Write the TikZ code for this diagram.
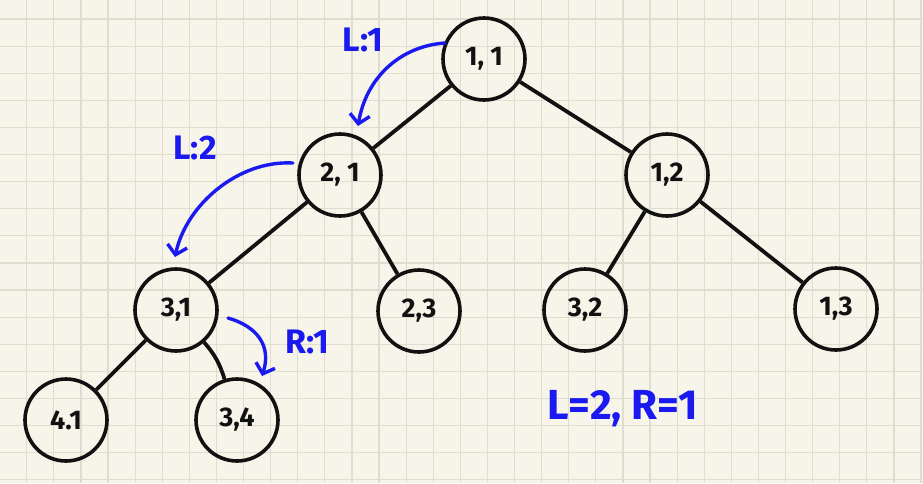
\documentclass[tikz,border=0pt]{standalone}
\usepackage{fontspec}
\setmainfont{Fira Sans}
\usetikzlibrary{arrows.meta}
\definecolor{paper}{HTML}{F7F5E9}
\definecolor{gridc}{HTML}{DFDDCF}
\definecolor{ink}{HTML}{111111}
\definecolor{pen}{HTML}{1A1AF0}
\tikzset{
  tnode/.style={circle,draw=ink,line width=3.6pt,minimum size=82pt,inner sep=0pt,
    font=\bfseries\fontsize{27}{27}\selectfont,text=ink},
  tedge/.style={draw=ink,line width=3.8pt},
  bluearrow/.style={draw=pen,line width=3.4pt,line cap=round,
    -{Straight Barb[length=9pt,width=20pt,line width=3.4pt]}},
  bluelabel/.style={text=pen,font=\bfseries\fontsize{34}{34}\selectfont,inner sep=0pt},
}
\begin{document}
\begin{tikzpicture}[x=1pt,y=-1pt]
\fill[paper] (0,0) rectangle (923,483);
\useasboundingbox (0,0) rectangle (923,483);
\foreach \k in {1,...,34} {\draw[gridc,line width=1.2pt] ({-0.4+27.1*\k},0) -- ({-0.4+27.1*\k},483);}
\foreach \k in {0,...,17} {\draw[gridc,line width=1.2pt] (0,{19+27.1*\k}) -- (923,{19+27.1*\k});}

\node[tnode] (n11) at (484,59) {1, 1};
\node[tnode] (n21) at (340,175) {2, 1};
\node[tnode] (n12) at (667,175) {1,2};
\node[tnode] (n31) at (176,310) {3,1};
\node[tnode] (n23) at (419,311) {2,3};
\node[tnode] (n32) at (585,310) {3,2};
\node[tnode] (n13) at (836,309) {1,3};
\node[tnode] (n41) at (66,420) {4.1};
\node[tnode] (n34) at (237,420) {3,4};

\draw[tedge] (n11) -- (n21);
\draw[tedge] (n11) -- (n12);
\draw[tedge] (n21) -- (n31);
\draw[tedge] (n21) -- (n23);
\draw[tedge] (n12) -- (n32);
\draw[tedge] (n12) -- (n13);
\draw[tedge] (n31) -- (n41);
\draw[tedge] (n31) to[bend left=12] (n34);

\coordinate (a1s) at (445,43);
\coordinate (a1e) at (358,126);
\coordinate (a2s) at (293,163);
\coordinate (a2e) at (175,257);
\coordinate (a3s) at (228,318);
\coordinate (a3e) at (262,376);
\draw[bluearrow] (a1s) .. controls (400,46) and (366,78) .. (a1e);
\draw[bluearrow] (a2s) .. controls (238,160) and (186,205) .. (a2e);
\draw[bluearrow] (a3s) .. controls (256,326) and (272,345) .. (a3e);

\node[bluelabel] (l1) at (363,40) {L:1};
\node[bluelabel] (l2) at (195,148) {L:2};
\node[bluelabel] (r1) at (307,342) {R:1};
\node[bluelabel,font=\bfseries\fontsize{42}{42}\selectfont] (sum) at (623,409) {L=2, R=1};
\end{tikzpicture}
\end{document}
